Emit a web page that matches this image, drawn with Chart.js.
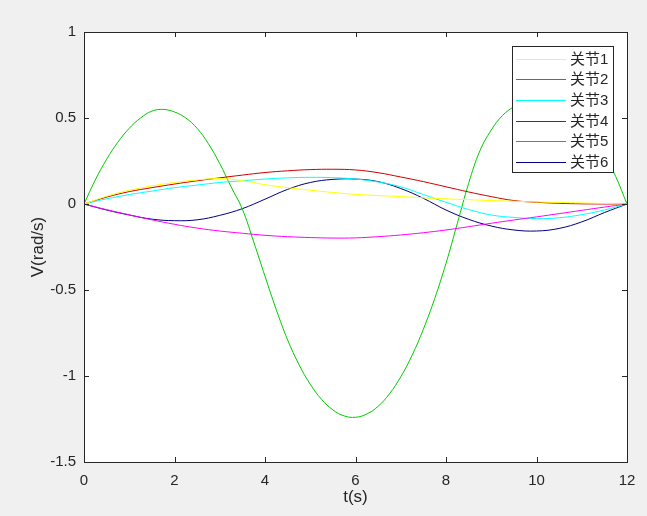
<!DOCTYPE html>
<html>
<head>
<meta charset="utf-8">
<script src="https://cdn.jsdelivr.net/npm/chart.js@4.4.1/dist/chart.umd.min.js"></script>
<style>
  html, body { margin: 0; padding: 0; background: #f0f0f0; }
  canvas { display: block; }
</style>
</head>
<body>
<canvas id="grafico" width="647" height="516"></canvas>
<script>
// dados (velocidade das juntas)
const tempo = [0, 0.5, 1, 1.5, 2, 2.5, 3, 3.5, 4, 4.5, 5, 5.5, 6, 6.5, 7, 7.5, 8, 8.5, 9, 9.5, 10, 10.5, 11, 11.5, 12];
const junta1 = [0, 0.045, 0.08, 0.105, 0.125, 0.14, 0.148, 0.136, 0.112, 0.095, 0.08, 0.067, 0.056, 0.049, 0.043, 0.036, 0.03, 0.025, 0.02, 0.016, 0.012, 0.009, 0.006, 0.003, 0];
const junta2 = [0, -0.033, -0.063, -0.092, -0.118, -0.14, -0.157, -0.17, -0.182, -0.19, -0.195, -0.198, -0.197, -0.19, -0.18, -0.167, -0.151, -0.132, -0.112, -0.093, -0.075, -0.056, -0.037, -0.018, 0];
const junta3 = [0, 0.03, 0.055, 0.075, 0.095, 0.11, 0.125, 0.135, 0.145, 0.152, 0.155, 0.153, 0.145, 0.128, 0.1, 0.055, 0.01, -0.032, -0.064, -0.078, -0.085, -0.08, -0.062, -0.035, 0];
const junta4 = [0, 0.04, 0.072, 0.095, 0.116, 0.135, 0.152, 0.168, 0.183, 0.193, 0.2, 0.202, 0.198, 0.182, 0.157, 0.13, 0.1, 0.07, 0.043, 0.02, 0.01, 0.004, 0.001, 0, 0];
const junta6 = [0, -0.035, -0.064, -0.088, -0.097, -0.092, -0.066, -0.027, 0.028, 0.085, 0.125, 0.143, 0.145, 0.13, 0.09, 0.033, -0.035, -0.089, -0.128, -0.151, -0.157, -0.142, -0.104, -0.05, 0];

// junta 5 varia muito mais, entao tem amostragem mais fina
const tempoFino = [0, 0.25, 0.5, 0.75, 1, 1.25, 1.5, 1.75, 2, 2.25, 2.5, 2.75, 3, 3.25, 3.5, 3.75, 4, 4.25, 4.5, 4.75, 5, 5.25, 5.5, 5.75, 6, 6.25, 6.5, 6.75, 7, 7.25, 7.5, 7.75, 8, 8.25, 8.5, 8.75, 9, 9.25, 9.5, 9.75, 10, 10.25, 10.5, 10.75, 11, 11.25, 11.5, 11.75, 12];
const junta5 = [0, 0.14, 0.26, 0.36, 0.44, 0.5, 0.54, 0.55, 0.535, 0.5, 0.44, 0.35, 0.235, 0.1, -0.03, -0.22, -0.42, -0.615, -0.79, -0.933, -1.048, -1.136, -1.197, -1.232, -1.24, -1.221, -1.176, -1.104, -1.005, -0.88, -0.728, -0.55, -0.345, -0.113, 0.12, 0.31, 0.43, 0.515, 0.565, 0.595, 0.6, 0.595, 0.57, 0.53, 0.47, 0.39, 0.29, 0.16, 0];

const nomes = ['关节1', '关节2', '关节3', '关节4', '关节5', '关节6'];
const cores = ['#ffff00', '#ff00ff', '#00ffff', '#cc0000', '#00cc00', '#000080'];
const ticksX = [0, 2, 4, 6, 8, 10, 12];
const ticksY = [-1.5, -1, -0.5, 0, 0.5, 1];

const fonte = '"Liberation Sans", Arial, "Noto Sans CJK SC", sans-serif';
const corEixo = '#262626';

const series = [junta1, junta2, junta3, junta4, junta5, junta6];
const tempos = [tempo, tempo, tempo, tempo, tempoFino, tempo];

// fundo branco da area do grafico
const fundoBranco = {
  id: 'fundoBranco',
  beforeDraw(chart) {
    const { ctx, chartArea: a } = chart;
    ctx.save();
    ctx.fillStyle = '#ffffff';
    ctx.fillRect(a.left, a.top, a.right - a.left, a.bottom - a.top);
    ctx.restore();
  }
};

// caixa + ticks para dentro (estilo matlab) + legenda
const moldura = {
  id: 'moldura',
  afterDatasetsDraw(chart) {
    const { ctx, chartArea: a, scales: { x, y } } = chart;
    ctx.save();
    ctx.setLineDash([]);
    ctx.strokeStyle = corEixo;
    ctx.lineWidth = 1;
    ctx.beginPath();
    ticksX.forEach(v => {
      const px = Math.round(x.getPixelForValue(v)) + 0.5;
      ctx.moveTo(px, a.bottom); ctx.lineTo(px, a.bottom - 5);
      ctx.moveTo(px, a.top); ctx.lineTo(px, a.top + 5);
    });
    ticksY.forEach(v => {
      const py = Math.round(y.getPixelForValue(v)) + 0.5;
      ctx.moveTo(a.left, py); ctx.lineTo(a.left + 5, py);
      ctx.moveTo(a.right, py); ctx.lineTo(a.right - 5, py);
    });
    ctx.stroke();
    ctx.strokeRect(a.left + 0.5, a.top + 0.5, a.right - a.left, a.bottom - a.top);

    // legenda
    const lx = 512, ly = 46, lw = 101, lh = 126;
    ctx.fillStyle = '#ffffff';
    ctx.fillRect(lx, ly, lw, lh);
    ctx.strokeStyle = corEixo;
    ctx.strokeRect(lx + 0.5, ly + 0.5, lw, lh);
    ctx.font = '15px ' + fonte;
    ctx.textBaseline = 'middle';
    ctx.textAlign = 'left';
    nomes.forEach((nome, i) => {
      const yy = Math.round(ly + 12.5 + i * 20.7) + 0.5;
      ctx.strokeStyle = cores[i];
      ctx.lineWidth = 1;
      ctx.beginPath();
      ctx.moveTo(lx + 4, yy);
      ctx.lineTo(lx + 54, yy);
      ctx.stroke();
      ctx.fillStyle = corEixo;
      ctx.fillText(nome, lx + 58, yy);
    });
    ctx.restore();
  }
};

new Chart(document.getElementById('grafico'), {
  type: 'line',
  data: {
    datasets: series.map((s, i) => ({
      label: nomes[i],
      data: tempos[i].map((t, k) => ({ x: t, y: s[k] })),
      borderColor: cores[i],
      borderWidth: 1,
      pointRadius: 0,
      tension: 0.4,
      fill: false
    }))
  },
  options: {
    responsive: false,
    animation: false,
    devicePixelRatio: 1,
    layout: { padding: { top: 32, right: 20, left: 0, bottom: 0 } },
    plugins: { legend: { display: false }, tooltip: { enabled: false } },
    scales: {
      x: {
        type: 'linear',
        min: 0, max: 12,
        afterBuildTicks: s => { s.ticks = ticksX.map(v => ({ value: v })); },
        afterFit: s => { s.height = 54; },
        grid: { display: false, drawTicks: false },
        border: { display: false },
        ticks: { color: corEixo, font: { family: fonte, size: 15 }, padding: 10, maxRotation: 0, callback: v => String(v) },
        title: { display: true, text: 't(s)', color: corEixo, font: { family: fonte, size: 17 }, padding: { top: 0, bottom: 8 } }
      },
      y: {
        type: 'linear',
        min: -1.5, max: 1,
        afterBuildTicks: s => { s.ticks = ticksY.map(v => ({ value: v })); },
        afterFit: s => { s.width = 84; },
        grid: { display: false, drawTicks: false },
        border: { display: false },
        ticks: { color: corEixo, font: { family: fonte, size: 15 }, padding: 8, callback: v => String(v) },
        title: { display: true, text: 'V(rad/s)', color: corEixo, font: { family: fonte, size: 17 }, padding: { top: 28, bottom: 0 } }
      }
    }
  },
  plugins: [fundoBranco, moldura]
});
</script>
</body>
</html>
